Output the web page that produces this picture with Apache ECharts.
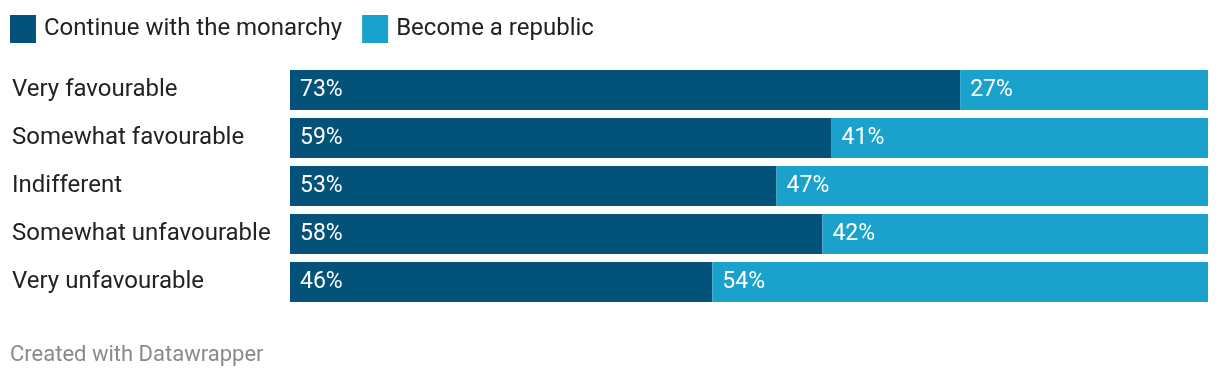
<!DOCTYPE html>
<html>
<head>
<meta charset="utf-8">
<script src="https://cdn.jsdelivr.net/npm/echarts@6/dist/echarts.min.js"></script>
<style>
  html, body { margin: 0; padding: 0; background: #fff; }
  #chart { width: 1220px; height: 378px; }
</style>
</head>
<body>
<div id="chart"></div>
<script>
// 类目和数据
const categories = ['Very favourable', 'Somewhat favourable', 'Indifferent', 'Somewhat unfavourable', 'Very unfavourable']
const monarchy = [73, 59, 53, 58, 46]
const republic = [27, 41, 47, 42, 54]

const chart = echarts.init(document.getElementById('chart'))
const font = 'Roboto, "Noto Sans", sans-serif'

const barLabel = {
  show: true,
  position: 'insideLeft',
  distance: 10,
  color: '#fff',
  fontSize: 23,
  fontFamily: font,
  formatter: '{c}%'
}

chart.setOption({
  animation: false,
  textStyle: { fontFamily: font },
  legend: {
    left: 5,
    top: 10,
    itemWidth: 26,
    itemHeight: 28,
    itemGap: 20,
    icon: 'rect',
    textStyle: { fontSize: 24, color: '#222', fontFamily: font, padding: [4, 0, 0, 3] },
    data: ['Continue with the monarchy', 'Become a republic']
  },
  graphic: [{
    type: 'text',
    left: 10,
    top: 344,
    style: { text: 'Created with Datawrapper', fill: '#8a8a8a', fontSize: 22, fontFamily: font }
  }],
  grid: { left: 290, right: 12, top: 66, height: 240 },
  xAxis: {
    type: 'value',
    min: 0,
    max: 100,
    show: false
  },
  yAxis: {
    type: 'category',
    inverse: true,
    data: categories,
    axisLine: { show: false },
    axisTick: { show: false },
    axisLabel: {
      align: 'left',
      margin: 278,
      fontSize: 24,
      color: '#222',
      fontFamily: font,
      padding: [0, 0, 4, 0]
    }
  },
  series: [
    {
      name: 'Continue with the monarchy',
      type: 'bar',
      stack: 'total',
      barWidth: 40,
      itemStyle: { color: '#02527a' },
      label: barLabel,
      data: monarchy
    },
    {
      name: 'Become a republic',
      type: 'bar',
      stack: 'total',
      barWidth: 40,
      itemStyle: { color: '#1aa2cd' },
      label: barLabel,
      data: republic
    }
  ]
})
</script>
</body>
</html>
